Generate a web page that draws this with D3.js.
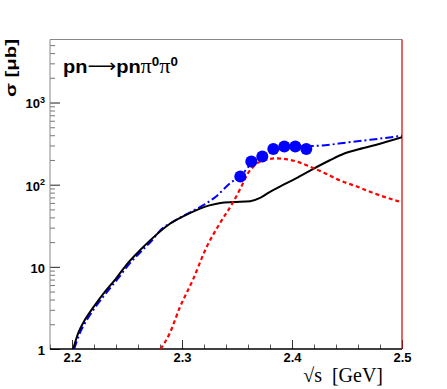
<!DOCTYPE html>
<html>
<head>
<meta charset="utf-8">
<script src="https://cdn.jsdelivr.net/npm/d3@7"></script>
<style>
  body { margin: 0; background: #fff; }
</style>
</head>
<body>
<script>
// black solid curve
const blackE = [2.201, 2.206, 2.212, 2.220, 2.230, 2.240, 2.250, 2.262, 2.271, 2.289, 2.307, 2.325, 2.335, 2.347, 2.362, 2.371, 2.380, 2.389, 2.404, 2.419, 2.434, 2.447, 2.465, 2.480, 2.500];
const blackSigma = [1.0, 1.6, 2.3, 3.3, 5.0, 7.2, 10.8, 16, 21, 33.5, 45, 56, 60, 61.5, 63, 69, 82, 95, 120, 155, 197, 238, 279, 315, 378];

// blue dash-dot curve
const blueE = [2.202, 2.207, 2.213, 2.221, 2.231, 2.241, 2.251, 2.263, 2.272, 2.280, 2.295, 2.310, 2.321, 2.331, 2.344, 2.353, 2.363, 2.373, 2.383, 2.393, 2.403, 2.415, 2.427, 2.450, 2.471, 2.500];
const blueSigma = [1.0, 1.55, 2.2, 3.2, 4.8, 7.0, 10.4, 15.5, 20.5, 27.5, 37.5, 48, 58, 72, 105, 127, 180, 222, 258, 280, 290, 295, 300, 326, 352, 394];

// red dashed curve
const redE = [2.2806, 2.289, 2.298, 2.310, 2.322, 2.3345, 2.3467, 2.354, 2.360, 2.366, 2.3755, 2.386, 2.396, 2.405, 2.417, 2.429, 2.444, 2.459, 2.474, 2.500];
const redSigma = [1.0, 1.57, 3.2, 7.0, 17, 34, 62, 95, 138, 172, 200, 209, 203, 190, 164, 140, 112, 95, 79, 61];

// data points
const dataE = [2.353, 2.363, 2.373, 2.383, 2.393, 2.403, 2.413];
const dataSigma = [126, 192, 220, 271, 292, 292, 271];

const xMajor = [2.2, 2.3, 2.4, 2.5];
const yMajor = [1, 10, 100, 1000];
const yLabelExp = ["", "", "2", "3"];

const W = 447, H = 389;
const L = 50, R = 402, T = 39.5, B = 349;
const sans = "Liberation Sans, Arial, sans-serif";

const x = d3.scaleLinear([2.18, 2.5], [L, R]);
const y = d3.scaleLog([1, 5850], [B, T]);

const svg = d3.select("body").append("svg")
    .attr("width", W).attr("height", H)
    .attr("font-family", sans);

svg.append("rect").attr("width", W).attr("height", H).attr("fill", "#fff");

svg.append("clipPath").attr("id", "frame")
  .append("rect").attr("x", L).attr("y", T).attr("width", R - L).attr("height", B - T);

// x axis ticks
const xMinor = d3.range(2.18, 2.5001, 0.02).filter(v => !xMajor.some(m => Math.abs(m - v) < 1e-6));
svg.append("g")
    .attr("transform", `translate(0,${B})`)
    .call(d3.axisBottom(x).tickValues(xMinor).tickSize(-4.5).tickFormat(""))
    .call(g => g.select(".domain").remove())
    .call(g => g.selectAll("line").attr("stroke", "#555"));

svg.append("g")
    .attr("transform", `translate(0,${B})`)
    .call(d3.axisBottom(x).tickValues(xMajor).tickSize(-9).tickPadding(4).tickFormat(d3.format(".1f")))
    .call(g => g.select(".domain").remove())
    .call(g => g.selectAll("line").attr("stroke", "#333"))
    .call(g => g.selectAll("text")
        .attr("font-family", sans)
        .attr("font-weight", "bold")
        .attr("font-size", 13)
        .attr("fill", "#000"));

// y axis ticks
const yMinor = [];
yMajor.forEach(d => d3.range(2, 10).forEach(k => { if (d * k < y.domain()[1]) yMinor.push(d * k); }));
svg.append("g")
    .attr("transform", `translate(${L},0)`)
    .call(d3.axisLeft(y).tickValues(yMinor).tickSize(-5).tickFormat(""))
    .call(g => g.select(".domain").remove())
    .call(g => g.selectAll("line").attr("stroke", "#777"));

svg.append("g")
    .attr("transform", `translate(${L},0)`)
    .call(d3.axisLeft(y).tickValues(yMajor).tickSize(-10).tickPadding(5).tickFormat(""))
    .call(g => g.select(".domain").remove())
    .call(g => g.selectAll("line").attr("stroke", "#222"))
    .call(g => g.selectAll("text").each(function(d, i) {
      const t = d3.select(this)
          .attr("font-family", sans)
          .attr("font-weight", "bold")
          .attr("font-size", 13)
          .attr("fill", "#000")
          .attr("dy", "0.42em");
      if (yLabelExp[i]) {
        t.append("tspan").text("10");
        t.append("tspan").attr("font-size", 9).attr("dy", "-0.6em").text(yLabelExp[i]);
      } else {
        t.text(String(d));
      }
    }));

// frame
const frame = svg.append("g").attr("stroke-width", 1).attr("fill", "none");
frame.append("line").attr("x1", L).attr("x2", R).attr("y1", T).attr("y2", T).attr("stroke", "#888");
frame.append("line").attr("x1", L).attr("x2", L).attr("y1", T).attr("y2", B).attr("stroke", "#888");
frame.append("line").attr("x1", L).attr("x2", R).attr("y1", B).attr("y2", B).attr("stroke", "#000").attr("stroke-width", 1.5);
frame.append("line").attr("x1", R).attr("x2", R).attr("y1", T).attr("y2", B).attr("stroke", "#d00000").attr("stroke-width", 1.2);

const line = d3.line()
    .x(d => x(d[0]))
    .y(d => y(d[1]))
    .curve(d3.curveMonotoneX);

const plot = svg.append("g").attr("clip-path", "url(#frame)").attr("fill", "none");

plot.append("path")
    .attr("d", line(d3.zip(blueE, blueSigma)))
    .attr("stroke", "#0000ff")
    .attr("stroke-width", 2)
    .attr("stroke-dasharray", "8,3,2,3");

plot.append("path")
    .attr("d", line(d3.zip(blackE, blackSigma)))
    .attr("stroke", "#000")
    .attr("stroke-width", 2);

plot.append("path")
    .attr("d", line(d3.zip(redE, redSigma)))
    .attr("stroke", "#ff0000")
    .attr("stroke-width", 2.2)
    .attr("stroke-dasharray", "4,3");

svg.append("g")
  .selectAll("circle")
  .data(d3.zip(dataE, dataSigma))
  .join("circle")
    .attr("cx", d => x(d[0]))
    .attr("cy", d => y(d[1]))
    .attr("r", 6)
    .attr("fill", "#0000ff");

// reaction label
const title = svg.append("text")
    .attr("x", 63).attr("y", 73)
    .attr("font-weight", "bold")
    .attr("font-size", 18)
    .attr("textLength", 115)
    .attr("lengthAdjust", "spacingAndGlyphs");
title.append("tspan").text("pn");
title.append("tspan").attr("font-family", "DejaVu Sans").attr("font-weight", "normal").attr("dy", -1).text("\u27f6");
title.append("tspan").attr("dy", 1).text("pn");
title.append("tspan").attr("font-family", "Liberation Serif").attr("font-size", 20).attr("font-weight", "normal").text("\u03c0");
title.append("tspan").attr("font-size", 12).attr("dy", -7).text("0");
title.append("tspan").attr("font-family", "Liberation Serif").attr("font-size", 20).attr("font-weight", "normal").attr("dy", 7).text("\u03c0");
title.append("tspan").attr("font-size", 12).attr("dy", -7).text("0");

// axis titles
svg.append("text")
    .attr("transform", "translate(16,39) rotate(-90)")
    .attr("text-anchor", "end")
    .attr("font-weight", "bold")
    .attr("font-size", 14)
    .attr("textLength", 58)
    .attr("lengthAdjust", "spacingAndGlyphs")
    .text("\u03c3 [\u03bcb]");

svg.append("text")
    .attr("x", 383).attr("y", 382)
    .attr("text-anchor", "end")
    .attr("font-family", "Liberation Serif, Times New Roman, serif")
    .attr("font-size", 20)
    .attr("xml:space", "preserve")
    .text("\u221as  [GeV]");
</script>
</body>
</html>
